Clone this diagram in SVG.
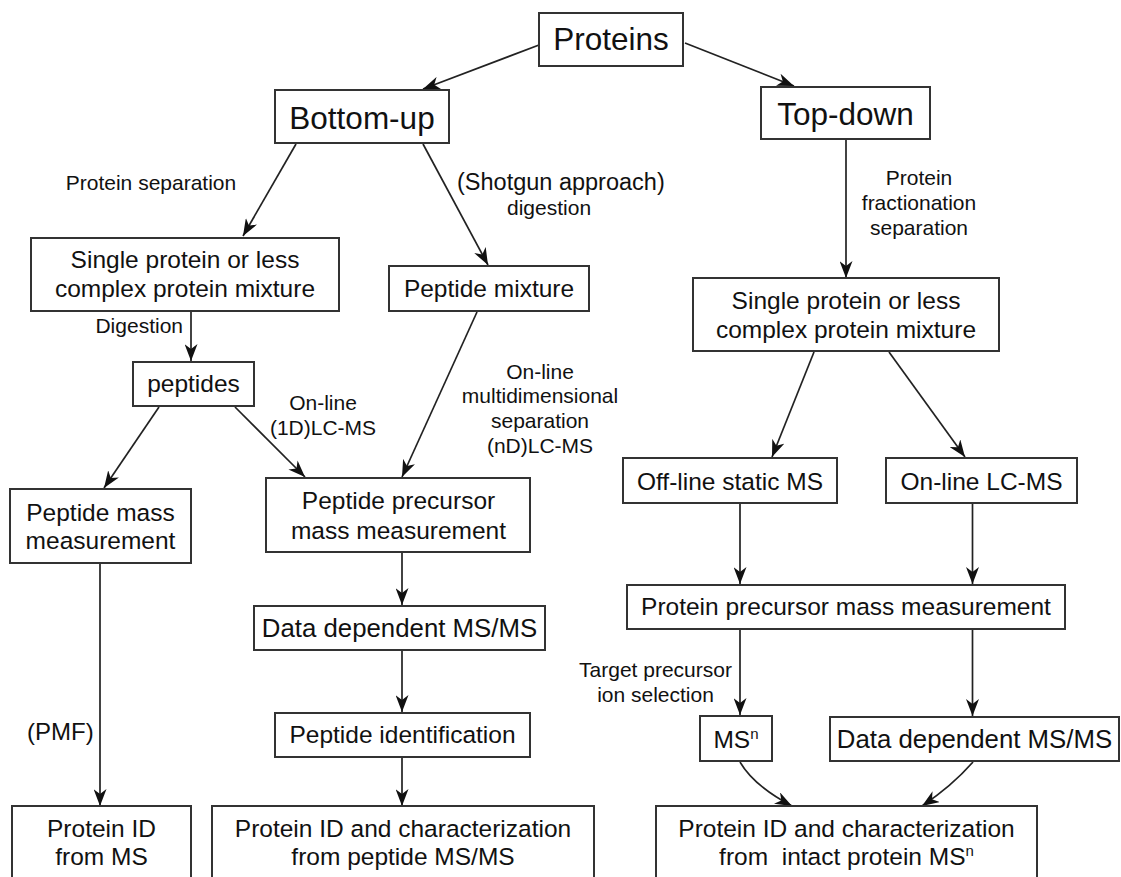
<svg xmlns="http://www.w3.org/2000/svg" width="1121" height="877" viewBox="0 0 1121 877">
<style>
.box{fill:#fff;stroke:#333;stroke-width:2}
.t{font-family:"Liberation Sans",Arial,sans-serif;fill:#111;text-anchor:middle}
.big{font-size:31.5px}
.med{font-size:24.5px}
.dd{font-size:25.8px}
.sm{font-size:21px}
.c{fill:none;stroke:#222;stroke-width:1.7;marker-end:url(#ah)}
</style>
<defs>
<marker id="ah" markerUnits="userSpaceOnUse" viewBox="0 0 17 13" markerWidth="17" markerHeight="13" refX="17" refY="6.5" orient="auto">
<path d="M0,0 L17,6.5 L0,13 L5,6.5 Z" fill="#111"/>
</marker>
</defs>
<rect width="1121" height="877" fill="#fff"/>
<g id="connectors">
<line class="c" x1="539" y1="45" x2="423" y2="89"/>
<line class="c" x1="685" y1="43" x2="794" y2="86"/>
<line class="c" x1="296" y1="144" x2="243" y2="236"/>
<line class="c" x1="423" y1="144" x2="488" y2="265"/>
<line class="c" x1="846" y1="140" x2="846" y2="278"/>
<line class="c" x1="191" y1="312" x2="191" y2="361"/>
<line class="c" x1="159" y1="407" x2="104" y2="488"/>
<line class="c" x1="235" y1="407" x2="305" y2="477"/>
<line class="c" x1="477" y1="312" x2="402" y2="477"/>
<line class="c" x1="814" y1="352" x2="772" y2="457"/>
<line class="c" x1="889" y1="352" x2="965" y2="457"/>
<line class="c" x1="100" y1="564" x2="100" y2="806"/>
<line class="c" x1="402" y1="553" x2="402" y2="605"/>
<line class="c" x1="402" y1="651" x2="402" y2="712"/>
<line class="c" x1="402" y1="758" x2="402" y2="806"/>
<line class="c" x1="740" y1="504" x2="740" y2="584"/>
<line class="c" x1="972.5" y1="504" x2="972.5" y2="584"/>
<line class="c" x1="740" y1="630" x2="740" y2="715"/>
<line class="c" x1="972.5" y1="630" x2="972.5" y2="716"/>
<path class="c" d="M740,762 Q754,786 792,806"/>
<path class="c" d="M973,762 Q952,786 922,806"/>
</g>
<g id="labels">
<text class="t sm" x="151" y="190">Protein separation</text>
<text class="t" x="457" y="190" style="font-size:23.5px;text-anchor:start">(Shotgun approach)</text>
<text class="t sm" x="507" y="215" style="text-anchor:start">digestion</text>
<text class="t sm" x="183" y="333" style="text-anchor:end">Digestion</text>
<text class="t sm" x="323" y="410">On-line</text>
<text class="t sm" x="323" y="435">(1D)LC-MS</text>
<text class="t sm" x="540" y="379">On-line</text>
<text class="t sm" x="540" y="403">multidimensional</text>
<text class="t sm" x="540" y="428">separation</text>
<text class="t sm" x="540" y="453">(nD)LC-MS</text>
<text class="t" x="27" y="740" style="font-size:24px;text-anchor:start">(PMF)</text>
<text class="t sm" x="919" y="185">Protein</text>
<text class="t sm" x="919" y="210">fractionation</text>
<text class="t sm" x="919" y="235">separation</text>
<text class="t sm" x="655.5" y="677">Target precursor</text>
<text class="t sm" x="655.5" y="702">ion selection</text>
</g>
<g id="n-proteins"><rect class="box" x="539" y="13" width="144" height="53"/><text class="t big" x="611" y="50">Proteins</text></g>
<g id="n-bottomup"><rect class="box" x="275" y="90" width="174" height="53"/><text class="t big" x="362" y="129">Bottom-up</text></g>
<g id="n-topdown"><rect class="box" x="761" y="87" width="169" height="52"/><text class="t big" x="845.5" y="125">Top-down</text></g>
<g id="n-single-left"><rect class="box" x="31" y="238" width="308" height="73"/><text class="t med" x="185" y="268">Single protein or less</text><text class="t med" x="185" y="297">complex protein mixture</text></g>
<g id="n-peptide-mixture"><rect class="box" x="389" y="266" width="200" height="45"/><text class="t med" x="489" y="297">Peptide mixture</text></g>
<g id="n-single-right"><rect class="box" x="693" y="278" width="306" height="73"/><text class="t med" x="846" y="309">Single protein or less</text><text class="t med" x="846" y="338">complex protein mixture</text></g>
<g id="n-peptides"><rect class="box" x="133" y="362" width="121" height="44"/><text class="t med" x="193.5" y="392">peptides</text></g>
<g id="n-peptide-mass"><rect class="box" x="10" y="489" width="181" height="74"/><text class="t med" x="100.5" y="521">Peptide mass</text><text class="t med" x="100.5" y="549">measurement</text></g>
<g id="n-peptide-precursor"><rect class="box" x="266" y="478" width="264" height="74"/><text class="t med" x="398.5" y="509">Peptide precursor</text><text class="t med" x="398.5" y="539">mass measurement</text></g>
<g id="n-dd-left"><rect class="box" x="254" y="606" width="291" height="44"/><text class="t dd" x="399.5" y="637">Data dependent MS/MS</text></g>
<g id="n-peptide-id"><rect class="box" x="275" y="713" width="255" height="44"/><text class="t med" x="402.5" y="743">Peptide identification</text></g>
<g id="n-protein-id-ms"><rect class="box" x="12" y="806" width="179" height="90"/><text class="t med" x="101.5" y="837">Protein ID</text><text class="t med" x="101.5" y="865">from MS</text></g>
<g id="n-protein-id-peptide"><rect class="box" x="212" y="806" width="382" height="90"/><text class="t med" x="403" y="837">Protein ID and characterization</text><text class="t med" x="403" y="865">from peptide MS/MS</text></g>
<g id="n-offline"><rect class="box" x="623" y="458" width="214" height="45"/><text class="t med" x="730" y="490">Off-line static MS</text></g>
<g id="n-online"><rect class="box" x="886" y="458" width="191" height="45"/><text class="t med" x="981.5" y="490">On-line LC-MS</text></g>
<g id="n-protein-precursor"><rect class="box" x="627" y="585" width="438" height="44"/><text class="t med" x="846" y="615">Protein precursor mass measurement</text></g>
<g id="n-msn"><rect class="box" x="700" y="716" width="72" height="45"/><text class="t med" x="736" y="748">MS<tspan font-size="15" dy="-9">n</tspan></text></g>
<g id="n-dd-right"><rect class="box" x="830" y="717" width="289" height="44"/><text class="t dd" x="974.5" y="748">Data dependent MS/MS</text></g>
<g id="n-protein-id-intact"><rect class="box" x="656" y="806" width="381" height="90"/><text class="t med" x="846.5" y="837">Protein ID and characterization</text><text class="t med" x="846.5" y="865" xml:space="preserve">from  intact protein MS<tspan font-size="15" dy="-9">n</tspan></text></g>
</svg>
